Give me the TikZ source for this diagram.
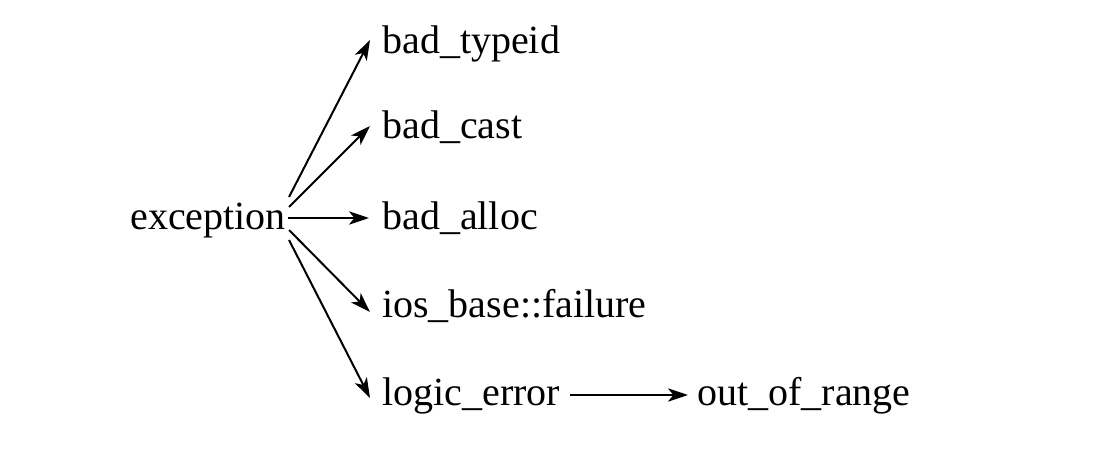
\documentclass[tikz,border=0pt]{standalone}
\usepackage{fontspec}
\setmainfont{Liberation Serif}
\usetikzlibrary{arrows.meta,calc}
\begin{document}
\begin{tikzpicture}[x=0.75pt,y=-0.75pt,
  lbl/.style={anchor=base west,inner sep=0pt,font=\fontsize{30}{36}\selectfont},
  conn/.style={line width=1.5pt,-{Stealth[length=15pt,width=10pt,inset=4pt]}}]
\useasboundingbox (0,0) rectangle (1118,474);
\node[lbl] (exc) at (130,229) {exception};
\node[lbl] (bt) at (382,54) {bad\_typeid};
\node[lbl] (bc) at (382,139) {bad\_cast};
\node[lbl] (ba) at (382,229) {bad\_alloc};
\node[lbl] (iof) at (382,317) {ios\_base::failure};
\node[lbl] (le) at (382,405) {logic\_error};
\node[lbl] (oor) at (697,405) {out\_of\_range};
\draw[conn] ($(exc.base east)+(3,-32)$) -- ($(bt.base west)+(-12,-14)$);
\draw[conn] ($(exc.base east)+(3,-22)$) -- ($(bc.base west)+(-12,-13)$);
\draw[conn] ($(exc.base east)+(2,-11)$) -- ($(ba.base west)+(-13,-11)$);
\draw[conn] ($(exc.base east)+(3,1)$) -- ($(iof.base west)+(-12,-5)$);
\draw[conn] ($(exc.base east)+(3,11)$) -- ($(le.base west)+(-12,-7)$);
\draw[conn] ($(le.base east)+(10,-10)$) -- ($(oor.base west)+(-9,-10)$);
\end{tikzpicture}
\end{document}
